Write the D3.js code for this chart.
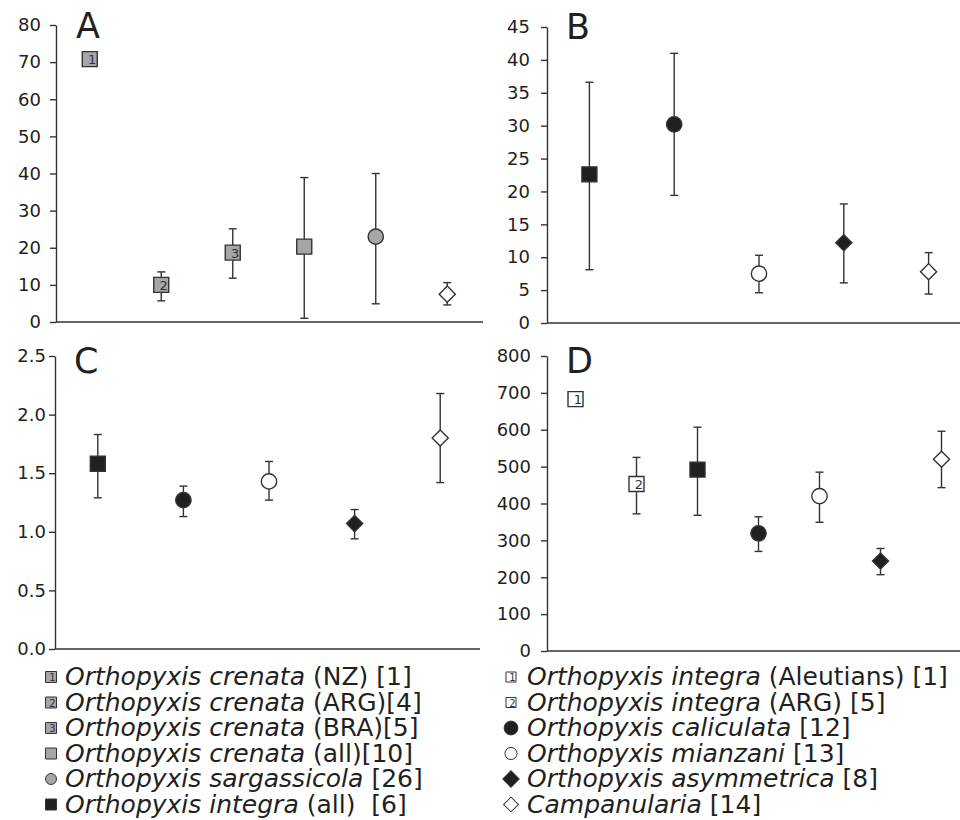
<!DOCTYPE html>
<html>
<head>
<meta charset="utf-8">
<script src="https://cdn.jsdelivr.net/npm/d3@7"></script>
<style>
  body { margin: 0; background: #fff; }
  svg { display: block; font-family: "DejaVu Sans", sans-serif; }
  .tick text { fill: #231f20; }
</style>
</head>
<body>
<div id="chart"></div>
<script>
// panel A
var aKeys = ["creNZ", "creARG", "creBRA", "creAll", "sarg", "camp"];
var aMean = [70.8, 10.0, 18.7, 20.3, 23.0, 7.5];
var aLow  = [null, 5.7, 11.8, 1.0, 4.9, 4.6];
var aHigh = [null, 13.5, 25.1, 38.9, 40.0, 10.6];
var aTicks = [0, 10, 20, 30, 40, 50, 60, 70, 80];

// panel B
var bKeys = ["intAll", "cal", "mia", "asy", "camp"];
var bMean = [22.6, 30.2, 7.5, 12.2, 7.8];
var bLow  = [8.1, 19.4, 4.6, 6.1, 4.4];
var bHigh = [36.6, 41.0, 10.3, 18.1, 10.7];
var bTicks = [0, 5, 10, 15, 20, 25, 30, 35, 40, 45];

// panel C
var cKeys = ["intAll", "cal", "mia", "asy", "camp"];
var cMean = [1.58, 1.27, 1.43, 1.07, 1.80];
var cLow  = [1.29, 1.13, 1.27, 0.94, 1.42];
var cHigh = [1.83, 1.39, 1.60, 1.19, 2.18];
var cTicks = [0, 0.5, 1.0, 1.5, 2.0, 2.5];

// panel D
var dKeys = ["intAleu", "intARG", "intAll", "cal", "mia", "asy", "camp"];
var dMean = [683, 453, 492, 319, 420, 244, 520];
var dLow  = [null, 372, 368, 270, 349, 207, 443];
var dHigh = [null, 525, 607, 364, 485, 278, 596];
var dTicks = [0, 100, 200, 300, 400, 500, 600, 700, 800];

// legend
var legendLeft = ["creNZ", "creARG", "creBRA", "creAll", "sarg", "intAll"];
var legendRight = ["intAleu", "intARG", "cal", "mia", "asy", "camp"];

var names = {
  creNZ:   ["Orthopyxis crenata", "(NZ) [1]"],
  creARG:  ["Orthopyxis crenata", "(ARG)[4]"],
  creBRA:  ["Orthopyxis crenata", "(BRA)[5]"],
  creAll:  ["Orthopyxis crenata", "(all)[10]"],
  sarg:    ["Orthopyxis sargassicola", "[26]"],
  intAll:  ["Orthopyxis integra", "(all)  [6]"],
  intAleu: ["Orthopyxis integra", "(Aleutians) [1]"],
  intARG:  ["Orthopyxis integra", "(ARG) [5]"],
  cal:     ["Orthopyxis caliculata", "[12]"],
  mia:     ["Orthopyxis mianzani", "[13]"],
  asy:     ["Orthopyxis asymmetrica", "[8]"],
  camp:    ["Campanularia", "[14]"]
};

// marker look for each group (legend sizes in the last field)
var gray = "#a6a6a8", ink = "#231f20";
var styles = {
  creNZ:   {shape: "square", fill: gray, num: "1", leg: 121},
  creARG:  {shape: "square", fill: gray, num: "2", leg: 121},
  creBRA:  {shape: "square", fill: gray, num: "3", leg: 121},
  creAll:  {shape: "square", fill: gray, leg: 121},
  sarg:    {shape: "circle", fill: gray, leg: 95},
  intAll:  {shape: "square", fill: ink, leg: 121},
  intAleu: {shape: "square", fill: "#fff", num: "1", leg: 100},
  intARG:  {shape: "square", fill: "#fff", num: "2", leg: 100},
  cal:     {shape: "circle", fill: ink, leg: 150},
  mia:     {shape: "circle", fill: "#fff", leg: 115},
  asy:     {shape: "diamond", fill: ink, leg: 135},
  camp:    {shape: "diamond", fill: "#fff", leg: 110}
};

var svg = d3.select("#chart").append("svg")
  .attr("width", 960)
  .attr("height", 820);

var panels = [
  {letter: "A", keys: aKeys, mean: aMean, low: aLow, high: aHigh, ticks: aTicks, fmt: d3.format("d"),
   axisX: 56, xr: [54, 483], lineEnd: 483, top: 25, bottom: 322, pad: 9, lx: 76, ly: 38},
  {letter: "B", keys: bKeys, mean: bMean, low: bLow, high: bHigh, ticks: bTicks, fmt: d3.format("d"),
   axisX: 547, xr: [547, 971], lineEnd: 960, top: 27, bottom: 323, pad: 11, lx: 566, ly: 39},
  {letter: "C", keys: cKeys, mean: cMean, low: cLow, high: cHigh, ticks: cTicks, fmt: d3.format(".1f"),
   axisX: 55, xr: [55, 483], lineEnd: 480, top: 356, bottom: 649, pad: 3, lx: 74, ly: 373},
  {letter: "D", keys: dKeys, mean: dMean, low: dLow, high: dHigh, ticks: dTicks, fmt: d3.format("d"),
   axisX: 547, xr: [545, 972], lineEnd: 960, top: 356, bottom: 651, pad: 10, lx: 566, ly: 373}
];

function symbolPath(shape, size) {
  var type = shape === "circle" ? d3.symbolCircle : d3.symbolSquare;
  return d3.symbol(type, size)();
}

var bigSize = {square: 225, circle: 185, diamond: 130};

panels.forEach(function(p) {
  var g = svg.append("g");

  var y = d3.scaleLinear()
    .domain([0, d3.max(p.ticks)])
    .range([p.bottom, p.top]);

  var x = d3.scalePoint()
    .domain(p.keys)
    .range(p.xr)
    .padding(0.5);

  // y axis
  var yAxis = d3.axisLeft(y)
    .tickValues(p.ticks)
    .tickFormat(p.fmt)
    .tickSize(6)
    .tickSizeOuter(0)
    .tickPadding(p.pad);

  var ya = g.append("g")
    .attr("transform", `translate(${p.axisX},0)`)
    .call(yAxis)
    .attr("font-size", null)
    .attr("font-family", null);
  ya.selectAll("text")
    .style("font-size", "18px")
    .style("font-family", "DejaVu Sans");
  ya.selectAll("line, path").attr("stroke", "#333").attr("stroke-width", 1.4);

  // x axis line only
  g.append("line")
    .attr("x1", p.axisX).attr("x2", p.lineEnd)
    .attr("y1", y(0)).attr("y2", y(0))
    .attr("stroke", "#333").attr("stroke-width", 1.6);

  // panel letter
  g.append("text")
    .attr("x", p.lx).attr("y", p.ly)
    .attr("font-size", 35)
    .attr("fill", ink)
    .text(p.letter);

  var rows = p.keys.map(function(k, i) {
    return {key: k, mean: p.mean[i], low: p.low[i], high: p.high[i]};
  });

  // error bars
  var bars = g.selectAll(".err")
    .data(rows.filter(d => d.low != null))
    .enter().append("g")
    .attr("stroke", "#333")
    .attr("stroke-width", 1.4);

  bars.append("line")
    .attr("x1", d => x(d.key)).attr("x2", d => x(d.key))
    .attr("y1", d => y(d.low)).attr("y2", d => y(d.high));
  bars.append("line")
    .attr("x1", d => x(d.key) - 4).attr("x2", d => x(d.key) + 4)
    .attr("y1", d => y(d.low)).attr("y2", d => y(d.low));
  bars.append("line")
    .attr("x1", d => x(d.key) - 4).attr("x2", d => x(d.key) + 4)
    .attr("y1", d => y(d.high)).attr("y2", d => y(d.high));

  // markers
  var marks = g.selectAll(".mark")
    .data(rows)
    .enter().append("g")
    .attr("transform", d => `translate(${x(d.key)},${y(d.mean)})`);

  marks.append("path")
    .attr("d", d => symbolPath(styles[d.key].shape, bigSize[styles[d.key].shape]))
    .attr("transform", d => styles[d.key].shape === "diamond" ? "rotate(45)" : null)
    .attr("fill", d => styles[d.key].fill)
    .attr("stroke", "#333")
    .attr("stroke-width", 1.4);

  marks.filter(d => styles[d.key].num)
    .append("text")
    .attr("x", 2.5).attr("y", 5)
    .attr("text-anchor", "middle")
    .attr("font-size", 13)
    .attr("fill", "#333")
    .text(d => styles[d.key].num);
});

// legends
function drawLegend(keys, markX, textX) {
  var rows = svg.selectAll(null)
    .data(keys)
    .enter().append("g")
    .attr("transform", (d, i) => `translate(0,${685 + i * 25.5})`);

  var m = rows.append("g")
    .attr("transform", `translate(${markX},-8)`);

  m.append("path")
    .attr("d", d => symbolPath(styles[d].shape, styles[d].leg))
    .attr("transform", d => styles[d].shape === "diamond" ? "rotate(45)" : null)
    .attr("fill", d => styles[d].fill)
    .attr("stroke", "#333")
    .attr("stroke-width", 1);

  m.filter(d => styles[d].num)
    .append("text")
    .attr("x", 1.5).attr("y", 4)
    .attr("text-anchor", "middle")
    .attr("font-size", 10)
    .attr("fill", "#333")
    .text(d => styles[d].num);

  // italic species name, then the plain part placed after it
  rows.each(function(d) {
    var row = d3.select(this);
    var it = row.append("text")
      .attr("x", textX)
      .attr("font-size", 25)
      .attr("font-style", "italic")
      .attr("fill", ink)
      .text(names[d][0]);
    var w = it.node().getComputedTextLength();
    row.append("text")
      .attr("x", textX + w + 8)
      .attr("font-size", 25)
      .attr("fill", ink)
      .style("white-space", "pre")
      .text(names[d][1]);
  });
}

drawLegend(legendLeft, 51, 65);
drawLegend(legendRight, 511, 527);
</script>
</body>
</html>
